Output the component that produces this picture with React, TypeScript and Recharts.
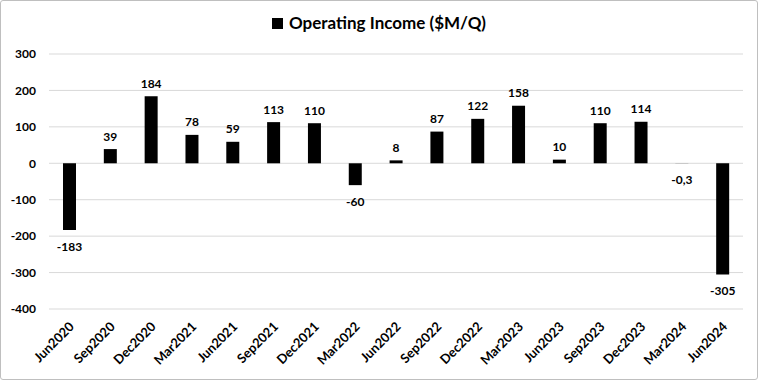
import React from "react";
import { BarChart, Bar, XAxis, YAxis, CartesianGrid, LabelList } from "recharts";

const quarters = [
  "Jun2020", "Sep2020", "Dec2020", "Mar2021", "Jun2021", "Sep2021",
  "Dec2021", "Mar2022", "Jun2022", "Sep2022", "Dec2022", "Mar2023",
  "Jun2023", "Sep2023", "Dec2023", "Mar2024", "Jun2024",
];
const income = [
  -183, 39, 184, 78, 59, 113, 110, -60, 8, 87, 122, 158, 10, 110, 114, -0.3, -305,
];
const yTicks = [-400, -300, -200, -100, 0, 100, 200, 300];
const title = "Operating Income ($M/Q)";

const FONT = "Lato, 'DejaVu Sans', sans-serif";

const data = quarters.map((q, i) => ({ quarter: q, income: income[i] }));

const fmt = (v: number) => String(v).replace(".", ",");

const ValueLabel = (props: any) => {
  const vb = props.viewBox || {};
  const x = props.x ?? vb.x;
  const y = props.y ?? vb.y;
  const width = props.width ?? vb.width;
  const height = props.height ?? vb.height;
  const v = Number(props.value);
  const top = Math.min(y, y + height);
  const bottom = Math.max(y, y + height);
  const ty = v >= 0 ? top - 8.5 : bottom + 21;
  return (
    <text
      x={x + width / 2}
      y={ty}
      textAnchor="middle"
      fontFamily={FONT}
      fontWeight={700}
      fontSize={12}
      fill="#000"
    >
      {fmt(v)}
    </text>
  );
};

export default function App() {
  return (
    <div
      style={{
        position: "absolute",
        left: 0,
        top: 0,
        width: 758,
        height: 380,
        background: "#fff",
        fontFamily: FONT,
      }}
    >
      <BarChart
        width={758}
        height={380}
        data={data}
        margin={{ top: 54, right: 15, bottom: 6, left: 0 }}
      >
        <CartesianGrid vertical={false} stroke="#d9d9d9" />
        <XAxis
          dataKey="quarter"
          interval={0}
          angle={-45}
          textAnchor="end"
          height={65}
          axisLine={false}
          tickLine={false}
          tickSize={0}
          tickMargin={12}
          tick={{ fill: "#000", fontSize: 13, fontWeight: 700, fontFamily: FONT, dx: -1 }}
        />
        <YAxis
          width={49}
          domain={[-400, 300]}
          ticks={yTicks}
          interval={0}
          axisLine={false}
          tickLine={false}
          tickSize={0}
          tickMargin={13}
          tick={{ fill: "#000", fontSize: 12, fontWeight: 700, fontFamily: FONT }}
        />
        <Bar dataKey="income" fill="#000" barSize={13} isAnimationActive={false}>
          <LabelList dataKey="income" content={<ValueLabel />} />
        </Bar>
      </BarChart>
      <div
        style={{
          position: "absolute",
          left: 0,
          top: 11,
          width: 758,
          textAlign: "center",
          fontSize: 17,
          fontWeight: 700,
          color: "#000",
          lineHeight: "24px",
        }}
      >
        <span
          style={{
            display: "inline-block",
            width: 11,
            height: 11,
            background: "#000",
            marginRight: 6,
          }}
        />
        {title}
      </div>
      <div
        style={{
          position: "absolute",
          left: 0,
          top: 0,
          width: 758,
          height: 380,
          boxSizing: "border-box",
          border: "1px solid #bfbfbf",
          borderRadius: 3,
          pointerEvents: "none",
        }}
      />
    </div>
  );
}
